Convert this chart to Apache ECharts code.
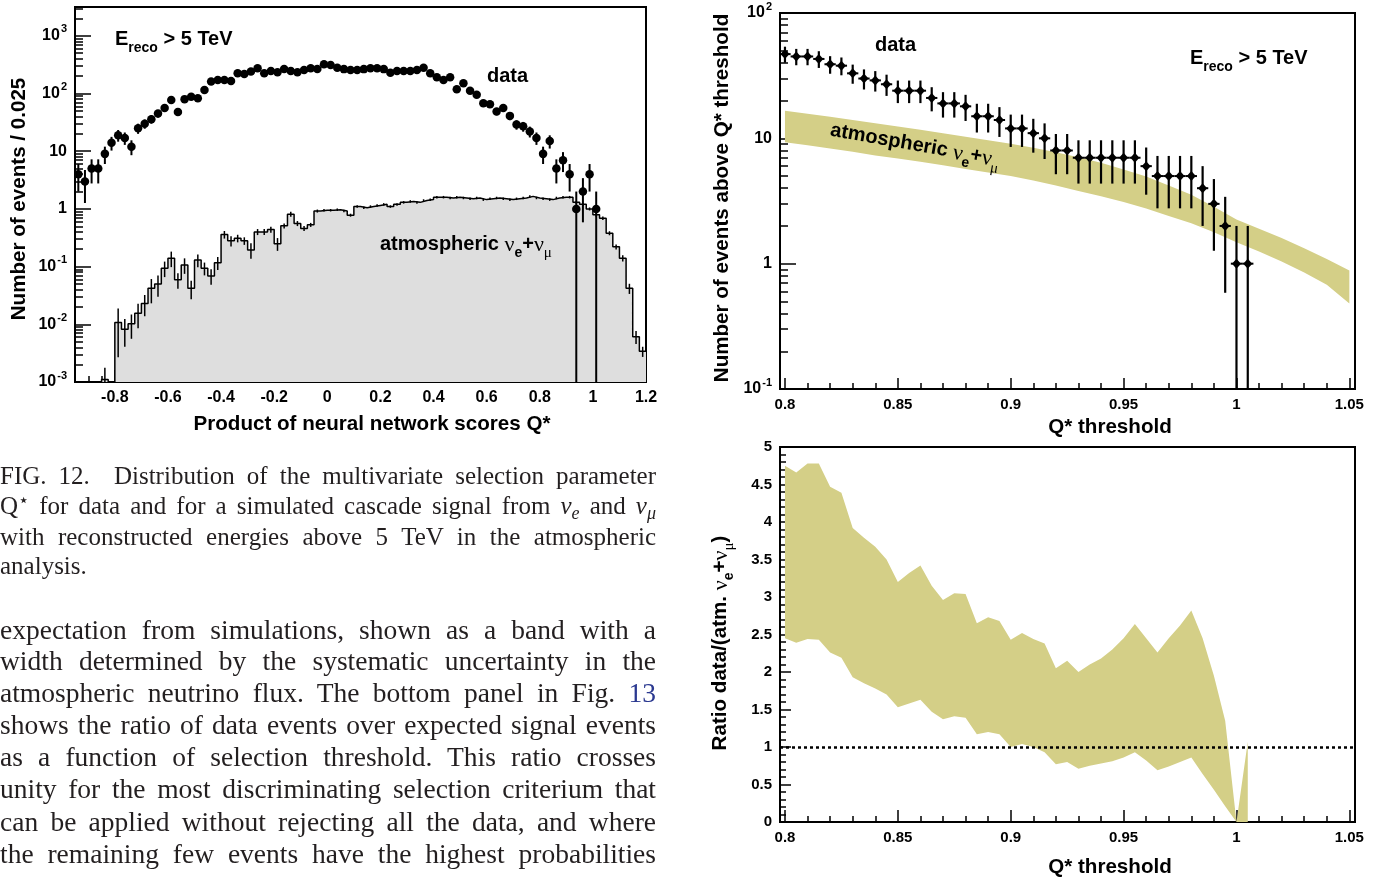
<!DOCTYPE html>
<html>
<head>
<meta charset="utf-8">
<title>Q* distribution</title>
<script src="https://cdn.jsdelivr.net/npm/echarts@6/dist/echarts.min.js"></script>
<style>
  body { margin: 0; background: #fff; }
  #chart { position: absolute; left: 0; top: 0; width: 1377px; height: 878px; }
  .txt { position: absolute; left: 0; width: 656px; font-family: 'Liberation Serif', 'Times New Roman', serif; color: #231f20; text-align: justify; text-align-last: justify; }
  .cap { font-size: 25px; line-height: 30px; }
  .bod { font-size: 27.5px; line-height: 32px; }
  .txt.end { text-align-last: left; }
  .sup, .sub { position: relative; font-size: 0.72em; line-height: 0; }
  .sup { top: -0.45em; }
  .sub { top: 0.3em; }
  .ref { color: #2b3990; }
</style>
</head>
<body>
<div id="chart"></div>
<div class="txt cap" style="top:461px">FIG. 12.&nbsp; Distribution of the multivariate selection parameter</div>
<div class="txt cap" style="top:491px">Q<span class="sup">&#8902;</span> for data and for a simulated cascade signal from <i>&nu;</i><span class="sub"><i>e</i></span> and <i>&nu;</i><span class="sub"><i>&mu;</i></span></div>
<div class="txt cap" style="top:522px">with reconstructed energies above 5 TeV in the atmospheric</div>
<div class="txt cap end" style="top:551px">analysis.</div>
<div class="txt bod" style="top:614px">expectation from simulations, shown as a band with a</div>
<div class="txt bod" style="top:645px">width determined by the systematic uncertainty in the</div>
<div class="txt bod" style="top:677px">atmospheric neutrino flux. The bottom panel in Fig. <span class="ref">13</span></div>
<div class="txt bod" style="top:709px">shows the ratio of data events over expected signal events</div>
<div class="txt bod" style="top:741px">as a function of selection threshold. This ratio crosses</div>
<div class="txt bod" style="top:773px">unity for the most discriminating selection criterium that</div>
<div class="txt bod" style="top:806px">can be applied without rejecting all the data, and where</div>
<div class="txt bod" style="top:838px">the remaining few events have the highest probabilities</div>
<script>
// left panel: data and atmospheric MC in bins of 0.025 starting at -0.95
var binLow = -0.95;
var binWidth = 0.025;
var dataCounts = [4, 3, 5, 5, 9, 14, 19, 17, 12, 25,
    30, 36, 45, 56, 77, 48, 80, 88, 83, 115,
    161, 172, 172, 165, 225, 219, 240, 274, 225, 246,
    234, 267, 246, 234, 255, 274, 267, 322, 313, 280,
    265, 255, 255, 265, 274, 274, 265, 230, 246, 246,
    246, 255, 280, 225, 191, 172, 191, 119, 151, 112,
    95, 68, 65, 49, 56, 41, 29, 27, 22, 17,
    9, 15, 5, 7, 4, 1, 2, 4, 1];
var mcValues = [0, 0, 0, 0, 0.0011, 0, 0.0107, 0.0082, 0.0102, 0.0156,
    0.023, 0.042, 0.05, 0.094, 0.14, 0.059, 0.107, 0.042, 0.13, 0.094,
    0.069, 0.117, 0.36, 0.28, 0.31, 0.28, 0.195, 0.40, 0.40, 0.44,
    0.25, 0.51, 0.81, 0.56, 0.46, 0.53, 0.92, 0.95, 0.95, 0.97,
    0.92, 0.78, 1.1, 1.05, 1.1, 1.15, 1.2, 1.1, 1.2, 1.3,
    1.35, 1.3, 1.4, 1.45, 1.6, 1.6, 1.55, 1.6, 1.55, 1.5,
    1.55, 1.45, 1.5, 1.55, 1.5, 1.45, 1.5, 1.55, 1.65, 1.55,
    1.5, 1.45, 1.55, 1.6, 1.6, 1.3, 1.2, 1.0, 0.79, 0.69,
    0.38, 0.22, 0.14, 0.042, 0.0061, 0.0034];
// relative MC errors per bin
var mcRelErr = [0, 0, 0, 0, 0.6, 0, 0.75, 0.5, 0.45, 0.45,
    0.4, 0.45, 0.4, 0.3, 0.3, 0.3, 0.3, 0.35, 0.25, 0.25,
    0.3, 0.25, 0.15, 0.2, 0.15, 0.15, 0.3, 0.12, 0.12, 0.12,
    0.25, 0.1, 0.1, 0.1, 0.1, 0.08, 0.06, 0.05, 0.05, 0.05,
    0.05, 0.06, 0.05, 0.05, 0.05, 0.05, 0.05, 0.05, 0.05, 0.05,
    0.05, 0.05, 0.05, 0.05, 0.05, 0.05, 0.05, 0.05, 0.05, 0.05,
    0.05, 0.05, 0.05, 0.05, 0.05, 0.05, 0.05, 0.05, 0.05, 0.05,
    0.05, 0.05, 0.05, 0.05, 0.05, 0.06, 0.06, 0.06, 0.07, 0.07,
    0.08, 0.1, 0.12, 0.2, 0.25, 0.2];

// top right: events above threshold
var thrQ = [0.800, 0.805, 0.810, 0.815, 0.820, 0.825, 0.830, 0.835, 0.840, 0.845,
    0.850, 0.855, 0.860, 0.865, 0.870, 0.875, 0.880, 0.885, 0.890, 0.895,
    0.900, 0.905, 0.910, 0.915, 0.920, 0.925, 0.930, 0.935, 0.940, 0.945,
    0.950, 0.955, 0.960, 0.965, 0.970, 0.975, 0.980, 0.985, 0.990, 0.995,
    1.000, 1.005];
var thrCounts = [47, 45, 45, 43, 39, 38, 33, 30, 29, 27,
    24, 24, 24, 21, 19, 19, 18, 15, 15, 14,
    12, 12, 11, 10, 8, 8, 7, 7, 7, 7,
    7, 7, 6, 5, 5, 5, 5, 4, 3, 2,
    1, 1];
var bandQ = [0.80, 0.81, 0.82, 0.83, 0.84, 0.85, 0.86, 0.87, 0.88, 0.89,
    0.90, 0.91, 0.92, 0.93, 0.94, 0.95, 0.96, 0.97, 0.98, 0.99,
    1.00, 1.01, 1.02, 1.03, 1.04, 1.05];
var bandLow = [9.3, 8.8, 8.3, 7.8, 7.3, 6.9, 6.5, 6.1, 5.7, 5.35,
    5.0, 4.6, 4.2, 3.8, 3.45, 3.1, 2.75, 2.4, 2.1, 1.78,
    1.48, 1.25, 1.04, 0.85, 0.68, 0.48];
var bandHigh = [16.6, 15.7, 14.9, 14.0, 13.2, 12.4, 11.7, 11.0, 10.3, 9.65,
    9.05, 8.4, 7.75, 7.05, 6.4, 5.65, 4.95, 4.2, 3.55, 2.85,
    2.25, 1.9, 1.6, 1.33, 1.09, 0.88];

// bottom right: ratio band (same thresholds)
var ratioHigh = [4.75, 4.66, 4.78, 4.78, 4.47, 4.39, 3.92, 3.79, 3.67, 3.50,
    3.20, 3.32, 3.42, 3.15, 2.96, 3.05, 3.04, 2.65, 2.73, 2.68,
    2.43, 2.52, 2.44, 2.38, 2.05, 2.15, 2.00, 2.10, 2.18, 2.30,
    2.45, 2.64, 2.45, 2.26, 2.45, 2.62, 2.82, 2.45, 1.95, 1.35,
    0.00, 1.07];
var ratioLow = [2.45, 2.39, 2.44, 2.43, 2.26, 2.19, 1.93, 1.85, 1.78, 1.70,
    1.53, 1.58, 1.63, 1.47, 1.37, 1.41, 1.39, 1.17, 1.20, 1.17,
    1.00, 1.04, 1.00, 0.93, 0.77, 0.80, 0.71, 0.75, 0.78, 0.81,
    0.86, 0.93, 0.82, 0.69, 0.74, 0.80, 0.86, 0.64, 0.43, 0.21,
    0.00, 0.00];

var leftXTicks = [-0.8, -0.6, -0.4, -0.2, 0, 0.2, 0.4, 0.6, 0.8, 1, 1.2];
var rightXTicks = [0.8, 0.85, 0.9, 0.95, 1, 1.05];
var leftYTicks = [0.001, 0.01, 0.1, 1, 10, 100, 1000];
var rightYTicks = [0.1, 1, 10, 100];

var sans = 'Liberation Sans, Arial, Helvetica, sans-serif';
var serif = 'Liberation Serif, Times New Roman, serif';
var leftYMin = 0.001, leftYMax = 3162.28;
var rightYMin = 0.1, rightYMax = 100;

// minor tick positions
function logMinor(lo, hi) {
    var out = [];
    for (var e = Math.round(Math.log10(lo)); Math.pow(10, e) < hi; e++) {
        for (var k = 2; k <= 9; k++) {
            var v = +(k * Math.pow(10, e)).toPrecision(3);
            if (v < hi) out.push(v);
        }
    }
    return out;
}
var leftXMinor = [];
for (var k = -18; k <= 23; k++) { if (k % 4 !== 0) leftXMinor.push(+(k * 0.05).toFixed(2)); }
var rightXMinor = [];
for (var k2 = 81; k2 <= 104; k2++) { if (k2 % 5 !== 0) rightXMinor.push(+(k2 * 0.01).toFixed(2)); }

function numLabel(v) { return String(+(+v).toFixed(2)); }
function powLabel(v) {
    var e = Math.round(Math.log10(v));
    if (e === 0) return '{n|1}';
    if (e === 1) return '{n|10}';
    return '{n|10}{s|' + e + '}';
}
var powRich = {
    n: { fontFamily: sans, fontWeight: 'bold', fontSize: 16, lineHeight: 16, verticalAlign: 'bottom', color: '#000' },
    s: { fontFamily: sans, fontWeight: 'bold', fontSize: 11, lineHeight: 11, padding: [0, 0, 9, 1], verticalAlign: 'bottom', color: '#000' }
};

function xMain(grid, min, max, ticks, len, fs) {
    return {
        type: 'value', gridIndex: grid, min: min, max: max, position: 'bottom',
        axisLine: { show: true, onZero: false, lineStyle: { color: '#000', width: 2 } },
        axisTick: { show: true, inside: true, length: len, customValues: ticks, lineStyle: { color: '#000', width: 1.5 } },
        axisLabel: { show: true, customValues: ticks, margin: 8, color: '#000', fontWeight: 'bold', fontFamily: sans, fontSize: fs, formatter: numLabel },
        splitLine: { show: false }
    };
}
function xMinor(grid, min, max, ticks, len) {
    return {
        type: 'value', gridIndex: grid, min: min, max: max, position: 'bottom',
        axisLine: { show: false, onZero: false },
        axisTick: { show: true, inside: true, length: len, customValues: ticks, lineStyle: { color: '#000', width: 1.5 } },
        axisLabel: { show: false },
        splitLine: { show: false }
    };
}
function yLog(grid, min, max, ticks, len) {
    return {
        type: 'log', logBase: 10, gridIndex: grid, min: min, max: max, position: 'left',
        axisLine: { show: true, onZero: false, lineStyle: { color: '#000', width: 2 } },
        axisTick: { show: true, inside: true, length: len, customValues: ticks, lineStyle: { color: '#000', width: 1.5 } },
        axisLabel: { show: true, customValues: ticks, margin: 8, formatter: powLabel, rich: powRich },
        splitLine: { show: false }
    };
}
function yLogMinor(grid, min, max, ticks, len) {
    return {
        type: 'log', logBase: 10, gridIndex: grid, min: min, max: max, position: 'left',
        axisLine: { show: false, onZero: false },
        axisTick: { show: true, inside: true, length: len, customValues: ticks, lineStyle: { color: '#000', width: 1.5 } },
        axisLabel: { show: false },
        splitLine: { show: false }
    };
}

// series data
var histLine = [];
for (var i = 0; i < mcValues.length; i++) {
    histLine.push([binLow + binWidth * i, Math.max(mcValues[i], leftYMin)]);
}
histLine.push([binLow + binWidth * mcValues.length, Math.max(mcValues[mcValues.length - 1], leftYMin)]);

var mcErr = [];
for (var i = 0; i < mcValues.length; i++) {
    if (mcValues[i] > 0 && mcRelErr[i] > 0) {
        var c = binLow + binWidth * (i + 0.5);
        mcErr.push([c, Math.max(mcValues[i] * (1 - mcRelErr[i]), leftYMin), mcValues[i] * (1 + mcRelErr[i])]);
    }
}
var dataPts = [], dataErr = [];
for (var i = 0; i < dataCounts.length; i++) {
    var cx = binLow + binWidth * (i + 0.5);
    var n = dataCounts[i], s = Math.sqrt(n);
    dataPts.push([cx, n]);
    dataErr.push([cx, Math.max(n - s, leftYMin), n + s]);
}
var thrPts = [], thrErr = [];
for (var i = 0; i < thrQ.length; i++) {
    var n2 = thrCounts[i], s2 = Math.sqrt(n2);
    thrPts.push([thrQ[i], n2]);
    thrErr.push([thrQ[i], Math.max(n2 - s2, rightYMin), n2 + s2]);
}
var bandData = bandQ.map(function (q, i) { return [q, bandLow[i], bandHigh[i]]; });
var ratioData = thrQ.map(function (q, i) { return [q, ratioLow[i], ratioHigh[i]]; });

function vBar(width) {
    return function (params, api) {
        var p1 = api.coord([api.value(0), api.value(2)]);
        var p2 = api.coord([api.value(0), api.value(1)]);
        return { type: 'line', shape: { x1: p1[0], y1: p1[1], x2: p2[0], y2: p2[1] }, style: { stroke: '#000', lineWidth: width } };
    };
}
function crossBar(params, api) {
    var x = api.value(0);
    var p1 = api.coord([x, api.value(2)]);
    var p2 = api.coord([x, api.value(1)]);
    var y = thrCounts[params.dataIndex];
    var h1 = api.coord([x - 0.0025, y]);
    var h2 = api.coord([x + 0.0025, y]);
    return {
        type: 'group', children: [
            { type: 'line', shape: { x1: p1[0], y1: p1[1], x2: p2[0], y2: p2[1] }, style: { stroke: '#000', lineWidth: 2.2 } },
            { type: 'line', shape: { x1: h1[0], y1: h1[1], x2: h2[0], y2: h2[1] }, style: { stroke: '#000', lineWidth: 2 } }
        ]
    };
}
function bandShape(params, api) {
    if (params.dataIndex !== 0) return null;
    var data = this.rows;
    var pts = [];
    for (var i = 0; i < data.length; i++) pts.push(api.coord([data[i][0], data[i][2]]));
    for (var j = data.length - 1; j >= 0; j--) pts.push(api.coord([data[j][0], data[j][1]]));
    return { type: 'polygon', shape: { points: pts }, style: { fill: '#d4cf87' } };
}

var richLbl = {
    t: { fontFamily: sans, fontWeight: 'bold', fontSize: 20, lineHeight: 26, verticalAlign: 'top', fill: '#000' },
    tt: { fontFamily: sans, fontWeight: 'bold', fontSize: 20.6, lineHeight: 26, verticalAlign: 'top', fill: '#000' },
    sb: { fontFamily: sans, fontWeight: 'bold', fontSize: 14, lineHeight: 14, padding: [12, 0, 0, 0], verticalAlign: 'top', fill: '#000' },
    nu: { fontFamily: serif, fontSize: 22, lineHeight: 26, verticalAlign: 'top', fill: '#000' },
    mu: { fontFamily: serif, fontSize: 15, lineHeight: 14, padding: [12, 0, 0, 0], verticalAlign: 'top', fill: '#000' }
};
function label(x, y, text, rot, align) {
    return {
        type: 'text', x: x, y: y, rotation: rot || 0, silent: true, z: 100,
        style: { text: text, rich: richLbl, align: align || 'left', verticalAlign: 'middle' }
    };
}
var atmText = '{t|atmospheric }{nu|\u03bd}{sb|e}{t|+}{nu|\u03bd}{mu|\u03bc}';
var ereco = '{t|E}{sb|reco}{t| > 5 TeV}';

var chart = echarts.init(document.getElementById('chart'));
var option = {
    animation: false,
    backgroundColor: 'transparent',
    grid: [
        { left: 75, top: 7, width: 571, height: 375, show: true, borderColor: '#000', borderWidth: 2, outerBoundsMode: 'none' },
        { left: 780, top: 13, width: 575, height: 376, show: true, borderColor: '#000', borderWidth: 2, outerBoundsMode: 'none' },
        { left: 780, top: 447, width: 575, height: 375, show: true, borderColor: '#000', borderWidth: 2, outerBoundsMode: 'none' }
    ],
    xAxis: [
        xMain(0, -0.95, 1.2, leftXTicks, 12, 16),
        xMinor(0, -0.95, 1.2, leftXMinor, 6),
        xMain(1, 0.7978, 1.0525, rightXTicks, 11, 15),
        xMinor(1, 0.7978, 1.0525, rightXMinor, 6),
        xMain(2, 0.7978, 1.0525, rightXTicks, 12, 15),
        xMinor(2, 0.7978, 1.0525, rightXMinor, 6)
    ],
    yAxis: [
        yLog(0, leftYMin, leftYMax, leftYTicks, 16),
        yLogMinor(0, leftYMin, leftYMax, logMinor(leftYMin, leftYMax), 8),
        yLog(1, rightYMin, rightYMax, rightYTicks, 16),
        yLogMinor(1, rightYMin, rightYMax, logMinor(rightYMin, rightYMax), 8),
        {
            type: 'value', gridIndex: 2, min: 0, max: 5, interval: 0.5, position: 'left',
            axisLine: { show: true, onZero: false, lineStyle: { color: '#000', width: 2 } },
            axisTick: { show: true, inside: true, length: 11, lineStyle: { color: '#000', width: 1.5 } },
            minorTick: { show: true, splitNumber: 5, length: 6, lineStyle: { color: '#000', width: 1.5 } },
            axisLabel: { show: true, margin: 8, color: '#000', fontWeight: 'bold', fontFamily: sans, fontSize: 15, formatter: numLabel },
            splitLine: { show: false }
        }
    ],
    series: [
        {
            type: 'line', xAxisIndex: 0, yAxisIndex: 0, step: 'end', symbol: 'none', data: histLine, z: 1,
            lineStyle: { color: '#000', width: 1.5 },
            areaStyle: { color: '#dedede', opacity: 1, origin: 'start' }
        },
        { type: 'custom', xAxisIndex: 0, yAxisIndex: 0, data: mcErr, renderItem: vBar(1.5), encode: { x: 0, y: [1, 2] }, z: 2 },
        { type: 'custom', xAxisIndex: 0, yAxisIndex: 0, data: dataErr, renderItem: vBar(2), encode: { x: 0, y: [1, 2] }, z: 3 },
        { type: 'scatter', xAxisIndex: 0, yAxisIndex: 0, data: dataPts, symbol: 'circle', symbolSize: 8.5, itemStyle: { color: '#000', opacity: 1 }, z: 4 },
        {
            type: 'custom', xAxisIndex: 2, yAxisIndex: 2, data: bandData, clip: true, encode: { x: 0, y: [1, 2] }, z: 1,
            renderItem: bandShape.bind({ rows: bandData })
        },
        { type: 'custom', xAxisIndex: 2, yAxisIndex: 2, data: thrErr, renderItem: crossBar, encode: { x: 0, y: [1, 2] }, z: 3 },
        { type: 'scatter', xAxisIndex: 2, yAxisIndex: 2, data: thrPts, symbol: 'diamond', symbolSize: [9, 10], itemStyle: { color: '#000', opacity: 1 }, z: 4 },
        {
            type: 'custom', xAxisIndex: 4, yAxisIndex: 4, data: ratioData, clip: true, encode: { x: 0, y: [1, 2] }, z: 1,
            renderItem: bandShape.bind({ rows: ratioData }),
            markLine: {
                silent: true, symbol: 'none', animation: false, label: { show: false },
                lineStyle: { color: '#000', type: [3, 3], width: 2.5 },
                data: [{ yAxis: 1 }]
            }
        }
    ],
    graphic: {
        elements: [
            label(115, 42, ereco),
            label(487, 79, '{t|data}'),
            label(380, 247, atmText),
            label(875, 48, '{t|data}'),
            label(1190, 61, ereco),
            label(830, 133, atmText, -0.175),
            label(372, 427, '{tt|Product of neural network scores Q*}', 0, 'center'),
            label(1110, 430, '{tt|Q* threshold}', 0, 'center'),
            label(1110, 870, '{tt|Q* threshold}', 0, 'center'),
            label(22, 199, '{tt|Number of events / 0.025}', Math.PI / 2, 'center'),
            label(725, 198, '{tt|Number of events above Q* threshold}', Math.PI / 2, 'center'),
            label(723, 643, '{tt|Ratio data/(atm. }{nu|\u03bd}{sb|e}{tt|+}{nu|\u03bd}{mu|\u03bc}{tt|)}', Math.PI / 2, 'center')
        ]
    }
};
chart.setOption(option);
</script>
</body>
</html>
